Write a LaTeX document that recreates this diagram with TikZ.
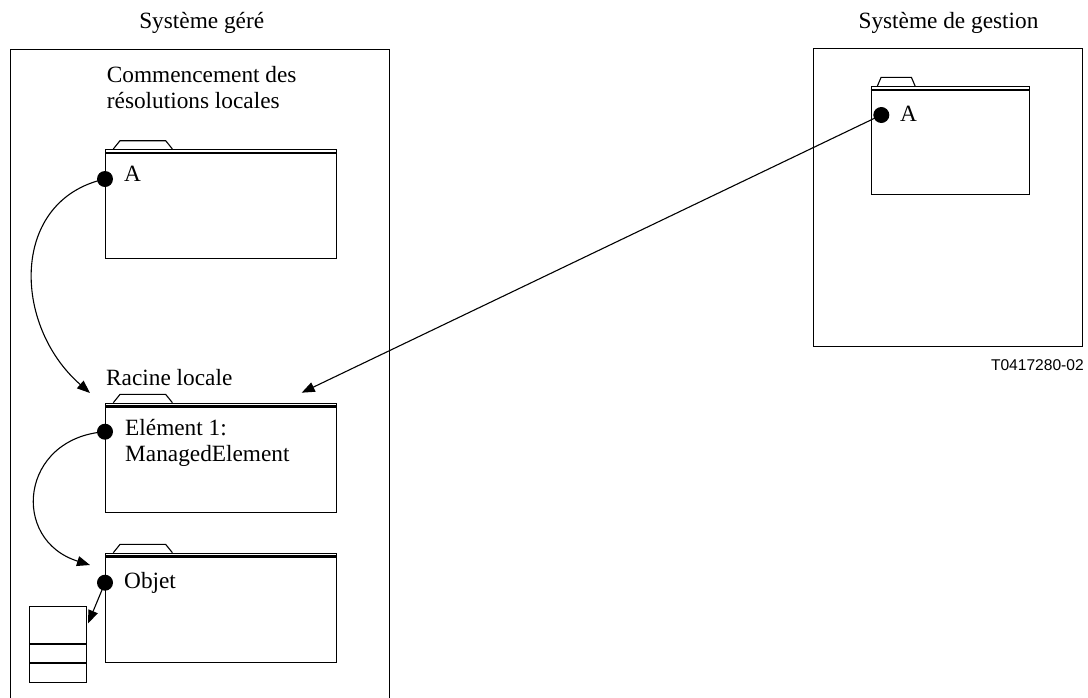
\documentclass[tikz,border=0pt]{standalone}
\usepackage{fontspec}
\setmainfont{Liberation Serif}
\newfontfamily\labelsans{Liberation Sans}
\usetikzlibrary{arrows.meta,calc}
\newcommand\foldertab[5]{%
  \draw[thinline] (#1.north west) ++(#2,0) -- ++(#3,-#5) -- ++(#4,0) -- ++(#3,#5);
  \draw[line width=2.2pt] ($(#1.north west)+(0,3.7)$) -- ($(#1.north east)+(0,3.7)$);
}
\begin{document}
\begin{tikzpicture}[x=1pt,y=-1pt,
  thinline/.style={line width=1.1pt},
  txt/.style={inner sep=0pt, anchor=base west, font=\fontsize{23.3}{26}\selectfont},
  ttl/.style={inner sep=0pt, anchor=base, font=\fontsize{23.3}{26}\selectfont},
  folder/.style={draw, thinline, rectangle, inner sep=0pt, anchor=north west, minimum width=230.7pt, minimum height=109pt},
  frame/.style={draw, thinline, rectangle, inner sep=0pt, anchor=north west},
  dot/.style={circle, fill=black, inner sep=0pt, minimum size=16pt},
  conn/.style={thinline, -{Triangle[length=13pt,width=10pt]}}
]
\useasboundingbox (0,0) rectangle (1088,697);

% outer frames
\node[frame, minimum width=379pt, minimum height=650pt] (managed) at (10,49) {};
\node[frame, minimum width=269pt, minimum height=297.7pt] (manager) at (812.7,48.3) {};

% titles
\node[ttl] (tManaged) at (201.7,28.5) {Système géré};
\node[ttl] (tManager) at (948.5,28.5) {Système de gestion};
\node[inner sep=0pt, anchor=base east, font=\labelsans\fontsize{15.6}{18}\selectfont] (tcode) at (1084,370) {T0417280-02};

% folders
\node[folder] (fA) at (105,149) {};
\node[folder] (fR) at (105,402.7) {};
\node[folder, minimum height=109.3pt] (fO) at (105,552.7) {};
\node[folder, minimum width=158.6pt, minimum height=108.3pt] (fM) at (870.7,86) {};
\foldertab{fA}{8.3}{6.7}{45.7}{8.3}
\foldertab{fR}{8.3}{6.7}{45.7}{8.3}
\foldertab{fO}{8.3}{6.7}{45.7}{8.3}
\foldertab{fM}{6.7}{3.7}{30.3}{8.7}

% table
\node[frame, minimum width=56.7pt, minimum height=75.7pt] (tbl) at (29.3,606) {};
\draw[line width=1.6pt] ($(tbl.north west)+(0,37.7)$) -- ($(tbl.north east)+(0,37.7)$);
\draw[line width=1.6pt] ($(tbl.north west)+(0,56.7)$) -- ($(tbl.north east)+(0,56.7)$);

% texts
\node[txt] (tStart1) at (106.7,82) {Commencement des};
\node[txt] (tStart2) at (106.7,108) {résolutions locales};
\node[txt] (tA) at (124,181.7) {A};
\node[txt] (tAM) at (900,121.7) {A};
\node[txt] (tRacine) at (106,385) {Racine locale};
\node[txt] (tElem1) at (125,435) {Elément 1:};
\node[txt] (tElem2) at (125,461) {ManagedElement};
\node[txt] (tObjet) at (124,588) {Objet};

% dots
\node[dot] (dA) at (105,179) {};
\node[dot] (dM) at (881.3,115) {};
\node[dot] (dE) at (105,431.7) {};
\node[dot] (dO) at (105,582.7) {};

% connector ends
\coordinate (rtip) at (90,393);
\coordinate (otip) at (90,565);
\coordinate (mtip) at (301.7,392.7);
\coordinate (ttip) at ($(tbl.north east)+(1,17.3)$);

% connectors
\draw[conn] (dA.center) .. controls (10,200) and (12,325) .. (rtip);
\draw[conn] (dE.center) .. controls (20,438) and (10,540) .. (otip);
\draw[conn] (dM.center) -- (mtip);
\draw[conn] (dO.center) -- (ttip);
\end{tikzpicture}
\end{document}
